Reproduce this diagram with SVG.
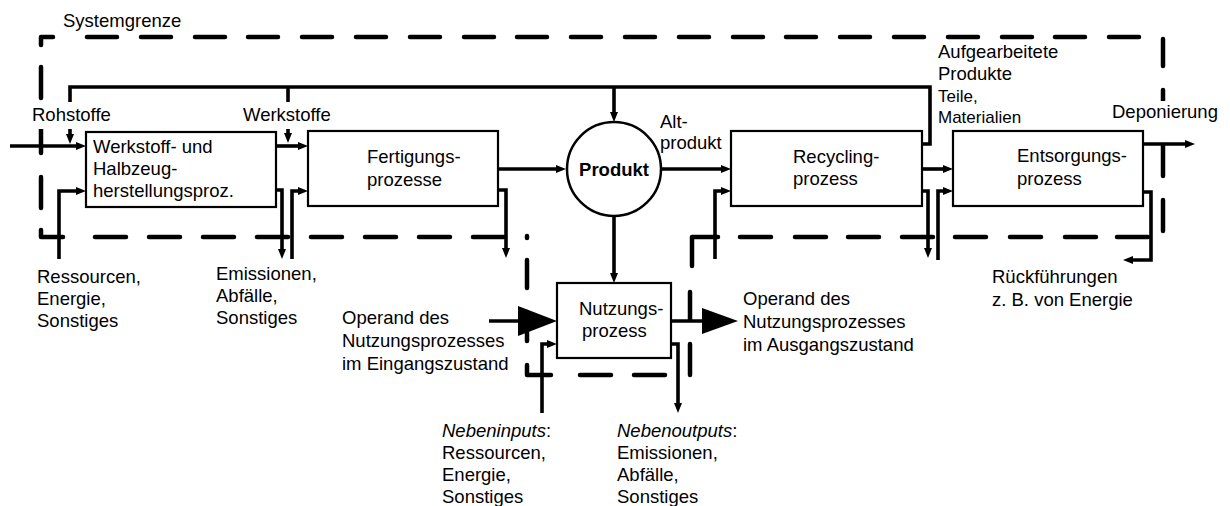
<svg xmlns="http://www.w3.org/2000/svg" width="1230" height="506" viewBox="0 0 1230 506">
<style>
text{font-family:"Liberation Sans",Arial,sans-serif;font-size:18.5px;fill:#000}
.sm{font-size:17px}
.b{font-weight:bold}
.box{fill:#fff;stroke:#000;stroke-width:2.2}
.c{fill:none;stroke:#000;stroke-width:3.6;stroke-linejoin:miter}
.a{marker-end:url(#ah)}
.dash{fill:none;stroke:#000;stroke-width:4.5;stroke-linecap:round;stroke-linejoin:round}
.mask{fill:#fff}
</style>
<defs>
<marker id="ah" markerUnits="userSpaceOnUse" markerWidth="12" markerHeight="10" refX="3" refY="4" orient="auto">
<path d="M0,0 L10,4 L0,8 z" fill="#000"/>
</marker>
</defs>
<rect width="1230" height="506" fill="#fff"/>
<g id="systemgrenze">
<path class="dash" d="M41,45 V37 H53 M87,37H117 M141,37H171 M195,37H225 M248,37H278 M302,37H332 M356,37H386 M410,37H440 M464,37H494 M517,37H547 M571,37H601 M625,37H655 M679,37H709 M733,37H763 M786,37H816 M840,37H870 M894,37H924 M948,37H978 M1002,37H1032 M1055,37H1085 M1109,37H1139"/>
<path class="dash" d="M1163,39V66 M1163,90V121 M1163,145V176 M1163,200V231"/>
<path class="dash" d="M740,237H771 M795,237H826 M848,237H879 M902,237H933 M955,237H986 M1010,237H1041 M1065,237H1096 M1117,237H1148"/>
<path class="dash" d="M692,266 V237 H718"/>
<path class="dash" d="M690,292V320 M690,344V375 M634,375H665 M580,375H611 M527,365 V375 H551"/>
<path class="dash" d="M527,236V238 M527,260V288 M527,312V341"/>
<path class="dash" d="M41,230 V237 H63 M95,237H126 M149,237H180 M203,237H234 M257,237H288 M311,237H342 M365,237H396 M419,237H450 M473,237H504"/>
<path class="dash" d="M41,67V98 M41,122V153 M41,177V208"/>
<text x="63" y="27">Systemgrenze</text>
</g>
<g id="connectors">
<path class="c a" d="M10,146 H79"/>
<path class="c" d="M922,144 H930 V87 H70 V136"/>
<path fill="#000" d="M66,134 L74,134 L70,144 z"/>
<path class="c a" d="M288,87 V136"/>
<path class="c a" d="M614,87 V115"/>
<path class="c a" d="M276,146 H301"/>
<path class="c a" d="M59,259 V191 H79"/>
<path class="c a" d="M276,190 H282 V252"/>
<path class="c a" d="M292,259 V191 H301"/>
<path class="c a" d="M498,169 H559"/>
<path class="c a" d="M498,190 H506 V251"/>
<path class="c a" d="M662,169 H724"/>
<path class="c a" d="M614,216 V276"/>
<path class="c a" d="M715,259 V191 H724"/>
<path class="c a" d="M922,169 H946"/>
<path class="c a" d="M922,191 H928 V251"/>
<path class="c a" d="M938,260 V191 H946"/>
<path class="c a" d="M1143,144 H1188"/>
<path class="c a" d="M1143,192 H1151 V260 H1130"/>
<path class="c" d="M489,321 H522"/>
<path fill="#000" d="M518,306 L557,321 L518,336 z"/>
<path class="c" d="M671,321 H705"/>
<path fill="#000" d="M702,308 L738,321 L702,334 z"/>
<path class="c a" d="M542,413 V344 H550"/>
<path class="c a" d="M671,344 H678 V406"/>
</g>
<g id="werkstoff">
<rect class="box" x="86" y="132" width="190" height="75"/>
<text x="93" y="153">Werkstoff- und</text>
<text x="93" y="175">Halbzeug-</text>
<text x="93" y="197">herstellungsproz.</text>
</g>
<g id="fertigung">
<rect class="box" x="308" y="131" width="190" height="75"/>
<text x="367" y="163">Fertigungs-</text>
<text x="367" y="186">prozesse</text>
</g>
<g id="produkt">
<circle cx="614" cy="169" r="47" fill="#fff" stroke="#000" stroke-width="2.5"/>
<text class="b" x="614" y="176" text-anchor="middle">Produkt</text>
</g>
<g id="recycling">
<rect class="box" x="731" y="131" width="191" height="75"/>
<text x="793" y="163">Recycling-</text>
<text x="793" y="185">prozess</text>
</g>
<g id="entsorgung">
<rect class="box" x="953" y="131" width="190" height="75"/>
<text x="1017" y="162">Entsorgungs-</text>
<text x="1017" y="185">prozess</text>
</g>
<g id="nutzung">
<rect class="box" x="557" y="283" width="114" height="75"/>
<text x="579" y="315">Nutzungs-</text>
<text x="582" y="337">prozess</text>
</g>
<g id="labels">
<rect class="mask" x="30" y="102" width="82" height="27"/>
<text x="32" y="121">Rohstoffe</text>
<rect class="mask" x="241" y="102" width="92" height="27"/>
<text x="243" y="121">Werkstoffe</text>
<text x="660" y="128">Alt-</text>
<text x="660" y="149">produkt</text>
<text x="938" y="58">Aufgearbeitete</text>
<text x="938" y="80">Produkte</text>
<text class="sm" x="938" y="102">Teile,</text>
<text class="sm" x="938" y="123">Materialien</text>
<rect class="mask" x="1110" y="101" width="110" height="26"/>
<text x="1112" y="118">Deponierung</text>
<text x="992" y="283">Rückführungen</text>
<text x="992" y="306">z. B. von Energie</text>
<text x="37" y="283">Ressourcen,</text>
<text x="37" y="305">Energie,</text>
<text x="37" y="327">Sonstiges</text>
<text x="216" y="280">Emissionen,</text>
<text x="216" y="302">Abfälle,</text>
<text x="216" y="324">Sonstiges</text>
<text x="342" y="324">Operand des</text>
<text x="342" y="347">Nutzungsprozesses</text>
<text x="342" y="370">im Eingangszustand</text>
<text x="743" y="305">Operand des</text>
<text x="743" y="328">Nutzungsprozesses</text>
<text x="743" y="351">im Ausgangszustand</text>
<text x="442" y="437"><tspan font-style="italic">Nebeninputs</tspan>:</text>
<text x="442" y="459">Ressourcen,</text>
<text x="442" y="481">Energie,</text>
<text x="442" y="503">Sonstiges</text>
<text x="617" y="437"><tspan font-style="italic">Nebenoutputs</tspan>:</text>
<text x="617" y="459">Emissionen,</text>
<text x="617" y="481">Abfälle,</text>
<text x="617" y="503">Sonstiges</text>
</g>
</svg>
